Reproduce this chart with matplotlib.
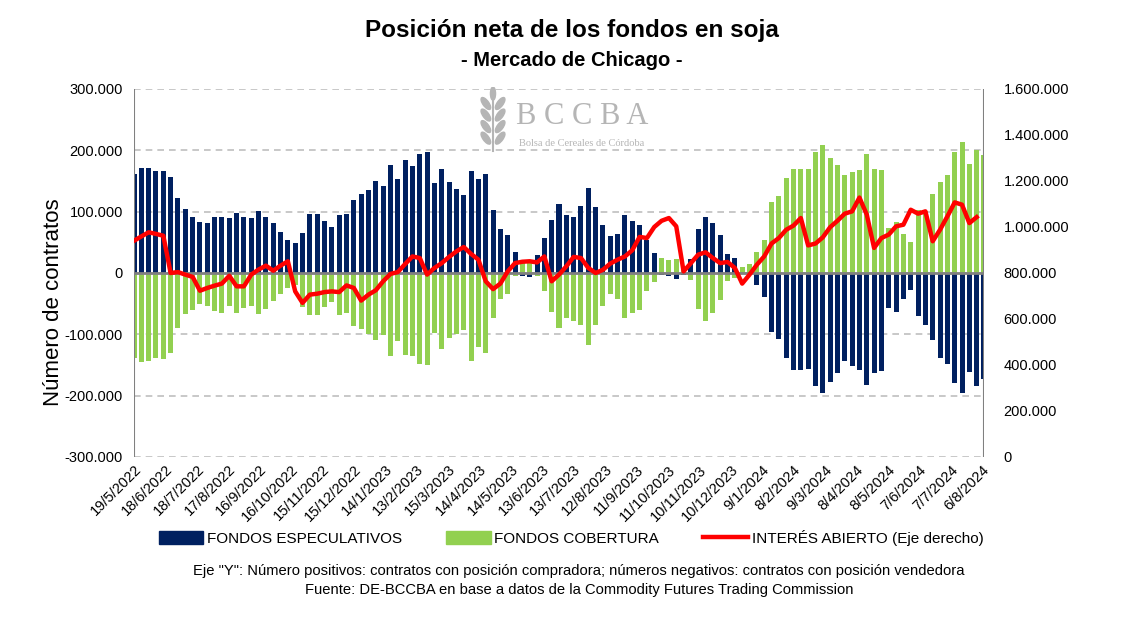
import matplotlib
matplotlib.use("Agg")
import matplotlib.pyplot as plt
from matplotlib.lines import Line2D
from matplotlib.patches import Patch, Ellipse
from matplotlib.ticker import FuncFormatter, MultipleLocator
import pandas as pd

# weekly data, thousands of contracts
especulativos = [
    162, 172, 171, 166, 167, 156, 123, 104, 92, 83, 81, 92, 92, 89, 98, 92, 89, 101, 92, 81,
    67, 54, 49, 65, 96, 96, 85, 75, 95, 97, 119, 129, 135, 150, 142, 176, 153, 184, 174, 194,
    197, 146, 169, 148, 137, 127, 166, 153, 161, 102, 71, 62, 34, -5, -6, 29, 57, 86, 112, 95,
    91, 109, 138, 107, 78, 60, 63, 94, 84, 78, 54, 32, -4, -5, -10, -3, 23, 72, 92, 82,
    62, 31, 24, 2, -4, -20, -39, -97, -107, -139, -158, -158, -156, -185, -196, -177, -163, -144, -152, -158,
    -182, -163, -159, -57, -64, -42, -27, -70, -84, -109, -139, -148, -179, -196, -162, -185, -173,
]
cobertura = [
    -138, -145, -143, -138, -141, -130, -90, -67, -61, -51, -53, -62, -65, -53, -65, -57, -53, -67, -59, -46,
    -34, -25, -20, -55, -69, -69, -56, -48, -69, -65, -86, -92, -99, -109, -101, -135, -111, -133, -135, -148,
    -150, -98, -124, -106, -100, -93, -143, -120, -130, -73, -43, -34, -5, 16, 16, -5, -29, -64, -89, -74,
    -79, -84, -118, -85, -54, -35, -43, -74, -65, -60, -30, -14, 25, 21, 23, 8, -11, -59, -79, -65,
    -44, -13, -8, 10, 15, 34, 54, 116, 125, 155, 170, 170, 170, 198, 208, 188, 176, 159, 165, 168,
    194, 170, 168, 73, 83, 63, 51, 103, 101, 128, 149, 160, 197, 213, 178, 201, 193,
]
interes_abierto = [
    940, 959, 977, 970, 962, 800, 804, 793, 783, 723, 735, 745, 754, 788, 742, 742, 793, 815, 832, 810,
    832, 851, 720, 670, 706, 710, 717, 720, 717, 746, 735, 680, 706, 725, 764, 796, 804, 839, 872, 865,
    793, 822, 843, 870, 894, 913, 883, 858, 764, 730, 754, 807, 843, 849, 851, 846, 872, 764, 793, 829,
    870, 865, 822, 800, 814, 841, 858, 872, 899, 957, 952, 1000, 1027, 1039, 1003, 807, 843, 880, 890, 865,
    843, 848, 822, 754, 793, 836, 872, 928, 952, 988, 1006, 1039, 920, 928, 955, 999, 1027, 1058, 1068, 1128,
    1054, 909, 952, 967, 1003, 1010, 1075, 1058, 1068, 938, 988, 1046, 1107, 1097, 1017, 1043,
]
fechas = pd.date_range("2022-05-19", periods=len(especulativos), freq="7D")
ticks = pd.date_range("2022-05-19", "2024-08-08", freq="30D")

NAVY = "#002060"
GREEN = "#92D050"
RED = "#FF0000"
GRAY = "#808080"
FONT = ["Liberation Sans", "DejaVu Sans"]

plt.rcParams["font.family"] = FONT

fig = plt.figure(figsize=(11.33, 6.18), dpi=100)
ax = fig.add_axes([134 / 1133, 1 - 457 / 618, 850 / 1133, 368 / 618])
ax2 = ax.twinx()

ax.bar(fechas, [v * 1000 for v in especulativos], width=4.8, color=NAVY, zorder=3)
ax.bar(fechas, [v * 1000 for v in cobertura], width=4.8, color=GREEN, zorder=3)
ax2.plot(fechas[:len(interes_abierto)], [v * 1000 for v in interes_abierto],
         color=RED, lw=3.2, solid_joinstyle="round", zorder=4)

ax.set_ylim(-300000, 300000)
ax.yaxis.set_major_locator(MultipleLocator(100000))
ax2.set_ylim(0, 1600000)
ax2.yaxis.set_major_locator(MultipleLocator(200000))
fmt = FuncFormatter(lambda v, p: f"{v:,.0f}".replace(",", "."))
ax.yaxis.set_major_formatter(fmt)
ax2.yaxis.set_major_formatter(fmt)

ax.set_xlim(fechas[0], fechas[-1])
ax.set_xticks(ticks)
ax.set_xticklabels([f"{d.day}/{d.month}/{d.year}" for d in ticks], rotation=45,
                   ha="right", rotation_mode="anchor", fontsize=9)

for a in (ax, ax2):
    a.tick_params(length=0, labelsize=10.5, colors="black")
    for s in a.spines.values():
        s.set_visible(False)
ax.tick_params(axis="x", pad=4)
ax.tick_params(axis="y", pad=8)
ax2.tick_params(axis="y", pad=14)

ax.grid(axis="y", ls=(0, (4, 3)), color="#BFBFBF", lw=1.2, zorder=0)
ax.axhline(0, color=GRAY, lw=2, zorder=3.5)
ax.axvline(fechas[0], color=GRAY, lw=1.5, zorder=5)
ax.axvline(fechas[-1], color=GRAY, lw=1.5, zorder=5)
ax.set_zorder(ax2.get_zorder() - 1)
ax.patch.set_visible(True)
ax2.patch.set_visible(False)

ax.set_ylabel("Número de contratos", fontsize=16)
ax.yaxis.set_label_coords(-0.082, 0.42)

fig.text(0.505, 1 - 31 / 618, "Posición neta de los fondos en soja", ha="center", va="center",
         fontsize=17.5, fontweight="bold")
fig.text(0.505, 1 - 61 / 618, "- Mercado de Chicago -", ha="center", va="center",
         fontsize=14.5, fontweight="bold")

# watermark
fig.text(582 / 1133, 1 - 117 / 618, "B C C B A", ha="center", va="center", fontsize=22,
         family="Liberation Serif", color="#B5B5B5")
fig.text(582 / 1133, 1 - 144 / 618, "Bolsa de Cereales de Córdoba", ha="center", va="center",
         fontsize=7.5, family="Liberation Serif", color="#B5B5B5")
wax = fig.add_axes([476 / 1133, 1 - 153 / 618, 34 / 1133, 66 / 618])
wax.set_xlim(-1, 1)
wax.set_ylim(0, 4)
wax.axis("off")
wax.plot([0, 0], [0.1, 3.5], color="#B5B5B5", lw=1.5)
for yy in (0.9, 1.6, 2.3, 3.0):
    wax.add_patch(Ellipse((-0.42, yy), 0.35, 0.85, angle=35, color="#B5B5B5"))
    wax.add_patch(Ellipse((0.42, yy), 0.35, 0.85, angle=-35, color="#B5B5B5"))
wax.add_patch(Ellipse((0, 3.6), 0.3, 0.8, color="#B5B5B5"))

handles = [
    Patch(color=NAVY, label="FONDOS ESPECULATIVOS"),
    Patch(color=GREEN, label="FONDOS COBERTURA"),
    Line2D([0], [0], color=RED, lw=3.2, label="INTERÉS ABIERTO (Eje derecho)"),
]
fig.legend(handles=handles, loc="center", bbox_to_anchor=(0.504, 1 - 538 / 618), ncol=3,
           frameon=False, fontsize=11, handlelength=2.9, handleheight=0.9,
           handletextpad=0.25, columnspacing=2.9)

fig.text(0.511, 1 - 571 / 618,
         'Eje "Y": Número positivos: contratos con posición compradora; números negativos: contratos con posición vendedora',
         ha="center", va="center", fontsize=10.6)
fig.text(0.511, 1 - 590 / 618,
         "Fuente: DE-BCCBA en base a datos de la Commodity Futures Trading Commission",
         ha="center", va="center", fontsize=10.6)

fig.savefig("out.png", dpi=100)
